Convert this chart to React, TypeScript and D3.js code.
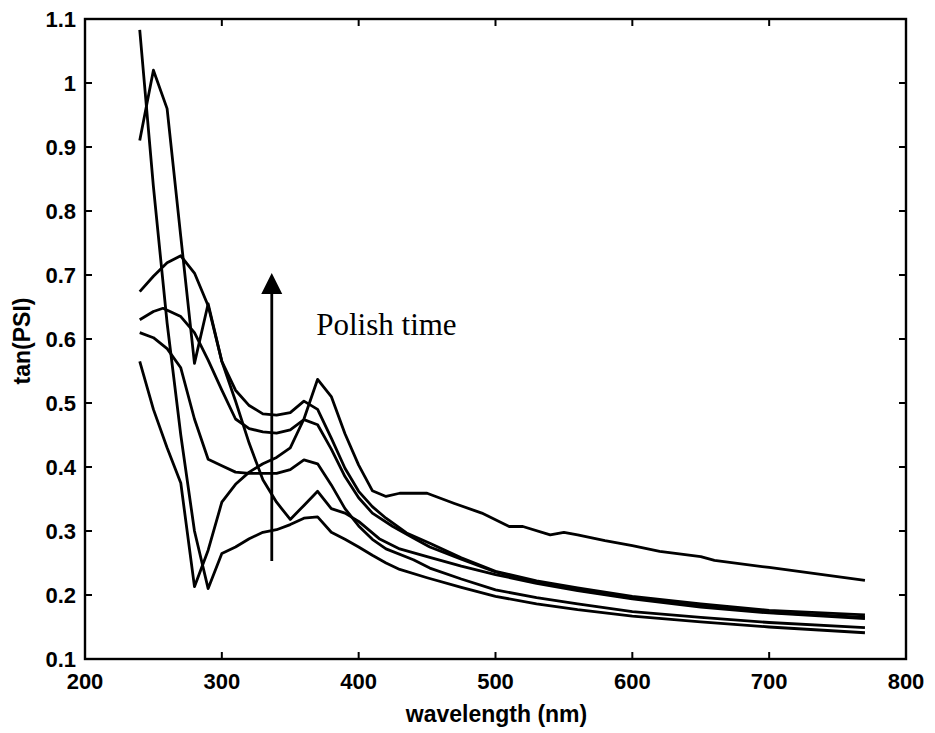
import React, { useEffect, useRef } from 'react';
import * as d3 from 'd3';

// tan(PSI) vs wavelength, one series per polish time
const seriesA = [
  [240, 1.083], [250, 0.838], [260, 0.625], [270, 0.45], [280, 0.3], [290, 0.21],
  [300, 0.265], [310, 0.275], [320, 0.288], [330, 0.298], [340, 0.302], [350, 0.31],
  [360, 0.32], [370, 0.322], [380, 0.298], [390, 0.287], [400, 0.275], [410, 0.262],
  [420, 0.25], [430, 0.24], [450, 0.227], [475, 0.212], [500, 0.198], [530, 0.186],
  [560, 0.177], [600, 0.167], [650, 0.158], [700, 0.15], [770, 0.141],
];
const seriesB = [
  [240, 0.674], [250, 0.698], [260, 0.719], [270, 0.73], [280, 0.703], [290, 0.652],
  [300, 0.565], [310, 0.52], [320, 0.496], [330, 0.483], [340, 0.481], [350, 0.485],
  [360, 0.503], [370, 0.49], [380, 0.445], [390, 0.398], [400, 0.362], [410, 0.338],
  [420, 0.32], [435, 0.297], [452, 0.281], [475, 0.258], [500, 0.237], [530, 0.222],
  [560, 0.211], [600, 0.198], [650, 0.186], [700, 0.176], [770, 0.169],
];
const seriesC = [
  [240, 0.63], [250, 0.643], [257, 0.648], [270, 0.635], [280, 0.61], [290, 0.567],
  [300, 0.52], [310, 0.475], [320, 0.46], [330, 0.455], [340, 0.453], [350, 0.458],
  [360, 0.474], [370, 0.466], [380, 0.428], [390, 0.385], [400, 0.352], [410, 0.328],
  [425, 0.307], [440, 0.289], [452, 0.275], [475, 0.256], [500, 0.236], [530, 0.22],
  [560, 0.208], [600, 0.195], [650, 0.183], [700, 0.173], [770, 0.165],
];
const seriesD = [
  [240, 0.61], [250, 0.602], [260, 0.585], [270, 0.555], [280, 0.475], [290, 0.412],
  [300, 0.402], [310, 0.392], [320, 0.39], [330, 0.39], [340, 0.39], [350, 0.396],
  [360, 0.411], [370, 0.405], [380, 0.372], [390, 0.335], [400, 0.308], [410, 0.287],
  [420, 0.272], [440, 0.255], [452, 0.242], [475, 0.225], [500, 0.208], [530, 0.196],
  [560, 0.186], [600, 0.174], [650, 0.165], [700, 0.157], [770, 0.149],
];
const seriesF = [
  [240, 0.565], [250, 0.49], [260, 0.43], [270, 0.375], [280, 0.213], [290, 0.27],
  [300, 0.345], [310, 0.373], [320, 0.392], [330, 0.405], [340, 0.415], [350, 0.43],
  [360, 0.475], [370, 0.537], [380, 0.51], [390, 0.452], [400, 0.403], [410, 0.363],
  [420, 0.354], [430, 0.359], [450, 0.359], [470, 0.343], [490, 0.328], [510, 0.307],
  [520, 0.307], [540, 0.294], [550, 0.298], [560, 0.294], [580, 0.285], [600, 0.277],
  [620, 0.268], [650, 0.26], [660, 0.254], [700, 0.243], [770, 0.223],
];
const seriesG = [
  [240, 0.91], [250, 1.02], [260, 0.96], [270, 0.76], [280, 0.562], [290, 0.655],
  [300, 0.565], [310, 0.503], [320, 0.437], [330, 0.38], [340, 0.345], [350, 0.318],
  [360, 0.34], [370, 0.362], [380, 0.335], [390, 0.328], [400, 0.315], [415, 0.288],
  [430, 0.272], [450, 0.26], [475, 0.245], [500, 0.232], [530, 0.218], [560, 0.207],
  [600, 0.194], [650, 0.181], [700, 0.172], [770, 0.163],
];

const xTicks = [200, 300, 400, 500, 600, 700, 800];
const yTicks = [0.1, 0.2, 0.3, 0.4, 0.5, 0.6, 0.7, 0.8, 0.9, 1, 1.1];
const yTickLabels = ['0.1', '0.2', '0.3', '0.4', '0.5', '0.6', '0.7', '0.8', '0.9', '1', '1.1'];

// annotation arrow, in data units
const arrowX = 336.5;
const arrowFrom = 0.253;
const arrowTo = 0.703;
const annotation = { x: 369, y: 0.607, text: 'Polish time' };

const App = () => {
  const svgRef = useRef<SVGSVGElement>(null);

  useEffect(() => {
    document.body.style.margin = '0';
    const W = 935;
    const H = 733;
    const margin = { top: 19, right: 29, bottom: 74, left: 85 };
    const width = W - margin.left - margin.right;
    const height = H - margin.top - margin.bottom;

    const root = d3.select(svgRef.current);
    root.selectAll('*').remove();
    root.attr('width', W).attr('height', H);

    const svg = root.append('g').attr('transform', `translate(${margin.left},${margin.top})`);

    const x = d3.scaleLinear().domain([200, 800]).range([0, width]);
    const y = d3.scaleLinear().domain([0.1, 1.1]).range([height, 0]);

    const font = "'Liberation Sans', Arial, sans-serif";
    const tickLen = 7;

    // series lines
    const line = d3.line<number[]>().x(d => x(d[0])).y(d => y(d[1]));
    const allSeries = [seriesA, seriesB, seriesC, seriesD, seriesF, seriesG];
    svg.selectAll('.series')
      .data(allSeries)
      .enter().append('path')
      .attr('class', 'series')
      .attr('d', d => line(d))
      .attr('fill', 'none')
      .attr('stroke', '#000')
      .attr('stroke-width', 2.8)
      .attr('stroke-linejoin', 'round');

    // frame
    svg.append('rect')
      .attr('x', 0).attr('y', 0)
      .attr('width', width).attr('height', height)
      .attr('fill', 'none')
      .attr('stroke', '#000')
      .attr('stroke-width', 2.4);

    // inward ticks on all sides
    const ticksG = svg.append('g').attr('stroke', '#000').attr('stroke-width', 2);
    xTicks.slice(1, -1).forEach(t => {
      ticksG.append('line').attr('x1', x(t)).attr('x2', x(t)).attr('y1', height).attr('y2', height - tickLen);
      ticksG.append('line').attr('x1', x(t)).attr('x2', x(t)).attr('y1', 0).attr('y2', tickLen);
    });
    yTicks.slice(1, -1).forEach(t => {
      ticksG.append('line').attr('x1', 0).attr('x2', tickLen).attr('y1', y(t)).attr('y2', y(t));
      ticksG.append('line').attr('x1', width).attr('x2', width - tickLen).attr('y1', y(t)).attr('y2', y(t));
    });

    // tick labels
    svg.selectAll('.xlab')
      .data(xTicks)
      .enter().append('text')
      .attr('class', 'xlab')
      .attr('x', d => x(d))
      .attr('y', height + 30)
      .attr('text-anchor', 'middle')
      .style('font-family', font)
      .style('font-weight', 'bold')
      .style('font-size', '22px')
      .text(d => String(d));

    svg.selectAll('.ylab')
      .data(yTicks)
      .enter().append('text')
      .attr('class', 'ylab')
      .attr('x', -9)
      .attr('y', d => y(d))
      .attr('dy', '0.36em')
      .attr('text-anchor', 'end')
      .style('font-family', font)
      .style('font-weight', 'bold')
      .style('font-size', '22px')
      .text((d, i) => yTickLabels[i]);

    // axis titles
    svg.append('text')
      .attr('x', width / 2 + 1)
      .attr('y', height + 63)
      .attr('text-anchor', 'middle')
      .style('font-family', font)
      .style('font-weight', 'bold')
      .style('font-size', '23px')
      .text('wavelength (nm)');

    svg.append('text')
      .attr('transform', `translate(${-margin.left + 30},${height / 2 + 2}) rotate(-90)`)
      .attr('text-anchor', 'middle')
      .style('font-family', font)
      .style('font-weight', 'bold')
      .style('font-size', '23px')
      .text('tan(PSI)');

    // arrow annotation
    const ax = x(arrowX);
    const headLen = 20;
    svg.append('line')
      .attr('x1', ax).attr('x2', ax)
      .attr('y1', y(arrowFrom)).attr('y2', y(arrowTo) + headLen)
      .attr('stroke', '#000')
      .attr('stroke-width', 2.8);
    svg.append('path')
      .attr('d', `M${ax},${y(arrowTo)} L${ax - 10.5},${y(arrowTo) + headLen + 1} L${ax + 10.5},${y(arrowTo) + headLen + 1} Z`)
      .attr('fill', '#000');

    svg.append('text')
      .attr('x', x(annotation.x))
      .attr('y', y(annotation.y))
      .style('font-family', "'Liberation Serif', 'Times New Roman', serif")
      .style('font-size', '31px')
      .text(annotation.text);
  }, []);

  return (
    <div style={{ position: 'absolute', left: 0, top: 0 }}>
      <svg ref={svgRef} style={{ display: 'block', background: '#fff' }}></svg>
    </div>
  );
};

export default App;
